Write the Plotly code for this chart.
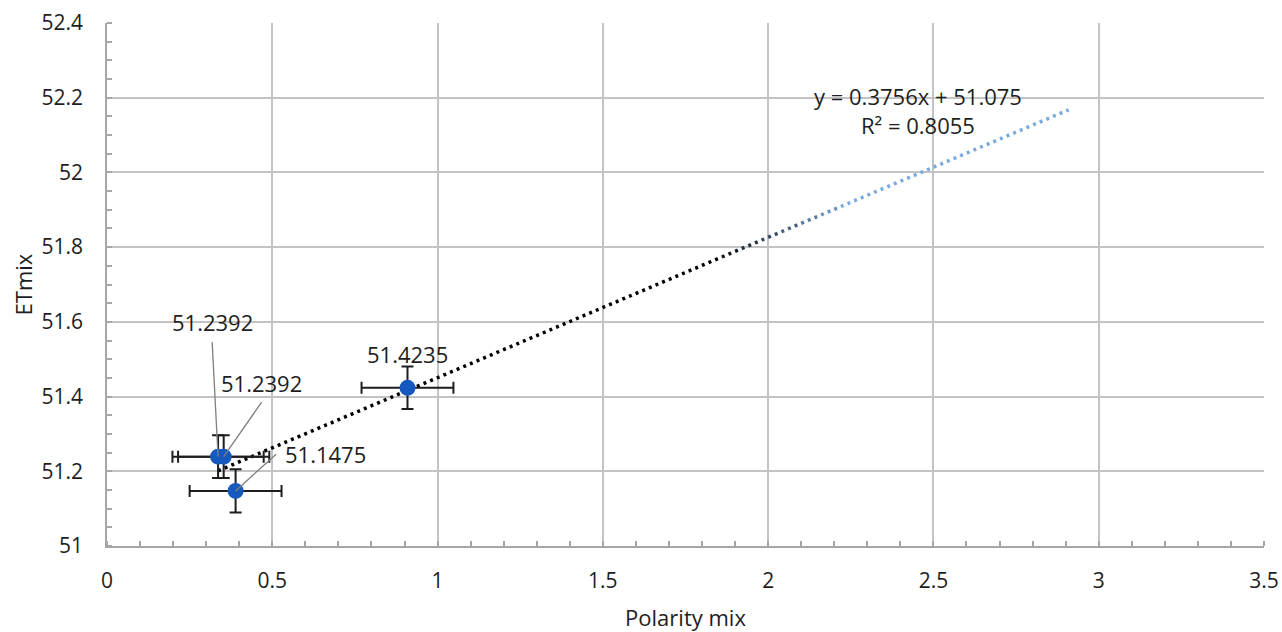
import plotly.graph_objects as go

# ---- data ----
polarity = [0.336, 0.353, 0.389, 0.909]
etmix = [51.2392, 51.2392, 51.1475, 51.4235]
err_x = [0.138, 0.138, 0.139, 0.139]
err_y = [0.057, 0.057, 0.058, 0.057]
point_labels = ["51.2392", "51.2392", "51.1475", "51.4235"]
trend_slope = 0.3756
trend_intercept = 51.075
trend_r2 = 0.8055
trend_forward = 2.0

x_ticks = [0, 0.5, 1, 1.5, 2, 2.5, 3, 3.5]
y_ticks = [51, 51.2, 51.4, 51.6, 51.8, 52, 52.2, 52.4]

FONT = "Open Sans"
TXT = "#1e1e1e"

fig = go.Figure()

# ---- trendline (black dotted fading to light blue) ----
x_start = min(polarity)
x_end = max(polarity) + trend_forward
breaks = [x_start, 1.86, 1.92, 1.98, 2.04, 2.10, 2.16, 2.22, x_end]
c0 = (0, 0, 0)
c1 = (120, 170, 222)
nseg = len(breaks) - 1
for i in range(nseg):
    t = 0 if i == 0 else min(1.0, i / (nseg - 1))
    col = tuple(round(a + (b - a) * t) for a, b in zip(c0, c1))
    xs = [breaks[i], breaks[i + 1]]
    ys = [trend_slope * v + trend_intercept for v in xs]
    fig.add_trace(go.Scatter(
        x=xs, y=ys, mode="lines",
        line=dict(color="rgb(%d,%d,%d)" % col, width=3.5, dash="3px,4.2px"),
        hoverinfo="skip", showlegend=False))

# ---- points with error bars ----
fig.add_trace(go.Scatter(
    x=polarity, y=etmix, mode="markers",
    marker=dict(color="#1559be", size=16),
    error_x=dict(type="data", array=err_x, color=TXT, thickness=2, width=6),
    error_y=dict(type="data", array=err_y, color=TXT, thickness=2, width=6),
    showlegend=False))

# ---- data labels ----
label_shift = [(-6, 135), (38, 74), (90, 37), (0, 34)]
leaders = [(-6, -116), (39, -56), (42, -38), None]
for xv, yv, txt, (dx, dy), ld in zip(polarity, etmix, point_labels, label_shift, leaders):
    fig.add_annotation(x=xv, y=yv, text=txt, showarrow=False,
                       xshift=dx, yshift=dy,
                       font=dict(family=FONT, size=22, color=TXT))
    if ld is not None:
        fig.add_annotation(x=xv, y=yv, text="", showarrow=True,
                           arrowhead=0, arrowwidth=1.3, arrowcolor="#7f7f7f",
                           ax=ld[0], ay=ld[1], standoff=0)

# ---- trendline equation ----
fig.add_annotation(
    x=2.452, y=52.165, xref="x", yref="y", showarrow=False,
    text="y = %.4fx + %.3f<br>R² = %.4f" % (trend_slope, trend_intercept, trend_r2),
    font=dict(family=FONT, size=22, color=TXT), align="center")

axis_common = dict(
    showgrid=True, gridcolor="#c3c3c3", gridwidth=1.5,
    showline=True, linecolor="#a6a6a6", linewidth=1.5, mirror=False,
    ticks="", zeroline=False,
    tickfont=dict(family=FONT, size=21, color=TXT),
)

fig.update_xaxes(
    **axis_common, range=[0, 3.5], tickvals=x_ticks,
    ticktext=[("%g" % v) for v in x_ticks],
    minor=dict(dtick=0.1, tick0=0, ticks="inside", ticklen=5, tickcolor="#a6a6a6",
               tickwidth=1.5, showgrid=False),
    ticklabelstandoff=15,
    title=dict(text="Polarity mix", font=dict(family=FONT, size=22, color=TXT), standoff=19),
)
fig.update_yaxes(
    **axis_common, range=[51, 52.4], tickvals=y_ticks,
    ticktext=[("%g" % v) for v in y_ticks],
    minor=dict(dtick=0.05, tick0=51, ticks="inside", ticklen=5, tickcolor="#a6a6a6",
               tickwidth=1.5, showgrid=False),
    ticklabelstandoff=18,
    title=dict(text="ETmix", font=dict(family=FONT, size=22, color=TXT), standoff=3),
)

fig.update_layout(
    width=1282, height=632,
    margin=dict(l=107, r=18, t=23, b=86, autoexpand=False),
    paper_bgcolor="white", plot_bgcolor="white",
    font=dict(family=FONT, color=TXT),
    showlegend=False,
)

fig.write_html("out.html")
